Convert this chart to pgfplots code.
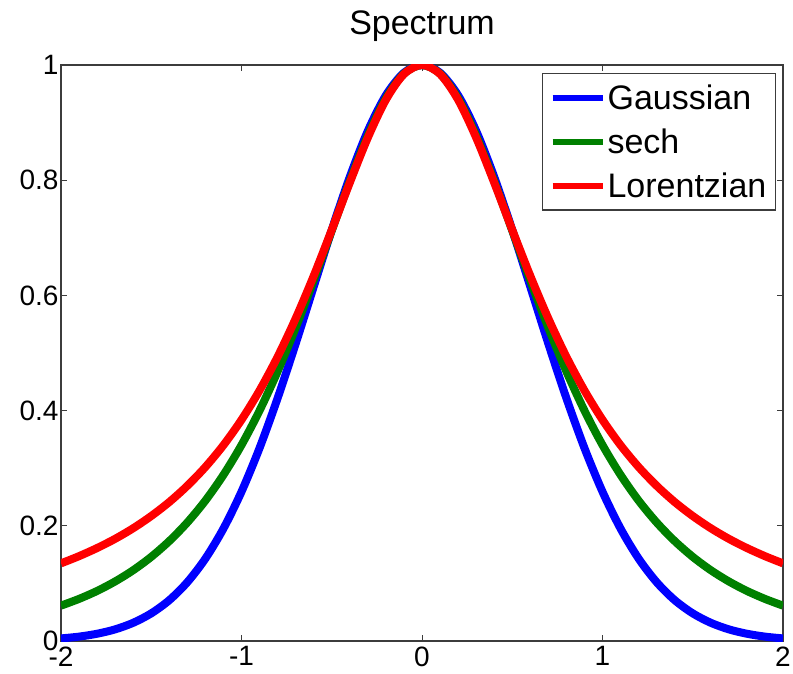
\documentclass[border=0pt]{standalone}
\usepackage{fontspec}
\setmainfont{Liberation Sans}
\usepackage{pgfplots}
\pgfplotsset{compat=1.18}
\usepackage{pgfplotstable}
\definecolor{mblue}{RGB}{0,0,255}
\definecolor{mgreen}{RGB}{0,128,0}
\definecolor{mred}{RGB}{255,0,0}
\definecolor{frame}{RGB}{60,60,60}

% x, Gaussian, sech, Lorentzian
\pgfplotstableread{
x g s l
-2.0 0.0045 0.0614 0.1348
-1.9 0.0076 0.0731 0.1473
-1.8 0.0126 0.0869 0.1614
-1.7 0.0202 0.1034 0.1774
-1.6 0.0316 0.1229 0.1958
-1.5 0.0480 0.1461 0.2170
-1.4 0.0709 0.1735 0.2413
-1.3 0.1021 0.2058 0.2695
-1.2 0.1431 0.2438 0.3021
-1.1 0.1952 0.2884 0.3400
-1.0 0.2592 0.3402 0.3840
-0.9 0.3350 0.4000 0.4349
-0.8 0.4215 0.4679 0.4934
-0.7 0.5161 0.5437 0.5599
-0.6 0.6151 0.6262 0.6339
-0.5 0.7136 0.7125 0.7138
-0.4 0.8057 0.7984 0.7958
-0.3 0.8856 0.8776 0.8739
-0.2 0.9474 0.9423 0.9397
-0.1 0.9866 0.9850 0.9842
0.0 1.0000 1.0000 1.0000
0.1 0.9866 0.9850 0.9842
0.2 0.9474 0.9423 0.9397
0.3 0.8856 0.8776 0.8739
0.4 0.8057 0.7984 0.7958
0.5 0.7136 0.7125 0.7138
0.6 0.6151 0.6262 0.6339
0.7 0.5161 0.5437 0.5599
0.8 0.4215 0.4679 0.4934
0.9 0.3350 0.4000 0.4349
1.0 0.2592 0.3402 0.3840
1.1 0.1952 0.2884 0.3400
1.2 0.1431 0.2438 0.3021
1.3 0.1021 0.2058 0.2695
1.4 0.0709 0.1735 0.2413
1.5 0.0480 0.1461 0.2170
1.6 0.0316 0.1229 0.1958
1.7 0.0202 0.1034 0.1774
1.8 0.0126 0.0869 0.1614
1.9 0.0076 0.0731 0.1473
2.0 0.0045 0.0614 0.1348
}\spectrum

\begin{document}
\begin{tikzpicture}
  \useasboundingbox (-61pt,-32pt) rectangle (732pt,641pt);
  \begin{axis}[
    scale only axis, width=722pt, height=576pt,
    xmin=-2, xmax=2, ymin=0, ymax=1,
    xtick={-2,-1,0,1,2}, xticklabels={-2,-1,0,1,2},
    ytick={0,0.2,0.4,0.6,0.8,1},
    yticklabels={0,0.2,0.4,0.6,0.8,1},
    tick align=inside, major tick length=6pt,
    every tick/.style={frame, line width=1pt},
    axis line style={frame, line width=1.3pt},
    tick label style={font=\fontsize{28}{32}\selectfont, text=black},
    yticklabel style={xshift=1pt},
    xticklabel style={yshift=-2pt},
    title={Spectrum},
    title style={font=\fontsize{34}{38}\selectfont, at={(0.5,1)}, anchor=base, yshift=24pt},
    legend style={at={(0.9903,0.9861)}, anchor=north east,
      font=\fontsize{34}{38}\selectfont, draw=frame, line width=1.3pt,
      fill=white, inner xsep=7pt, inner ysep=9pt, row sep=14pt},
    legend cell align=left,
    legend image code/.code={\draw[#1, line width=6pt] (0pt,0pt) -- (50pt,0pt);},
  ]
    \addplot[mblue, line width=8pt, line join=round, smooth] table[x=x, y=g] {\spectrum};
    \addplot[mgreen, line width=8pt, line join=round, smooth] table[x=x, y=s] {\spectrum};
    \addplot[mred, line width=8pt, line join=round, smooth] table[x=x, y=l] {\spectrum};
    \legend{Gaussian, sech, Lorentzian}
  \end{axis}
\end{tikzpicture}
\end{document}
